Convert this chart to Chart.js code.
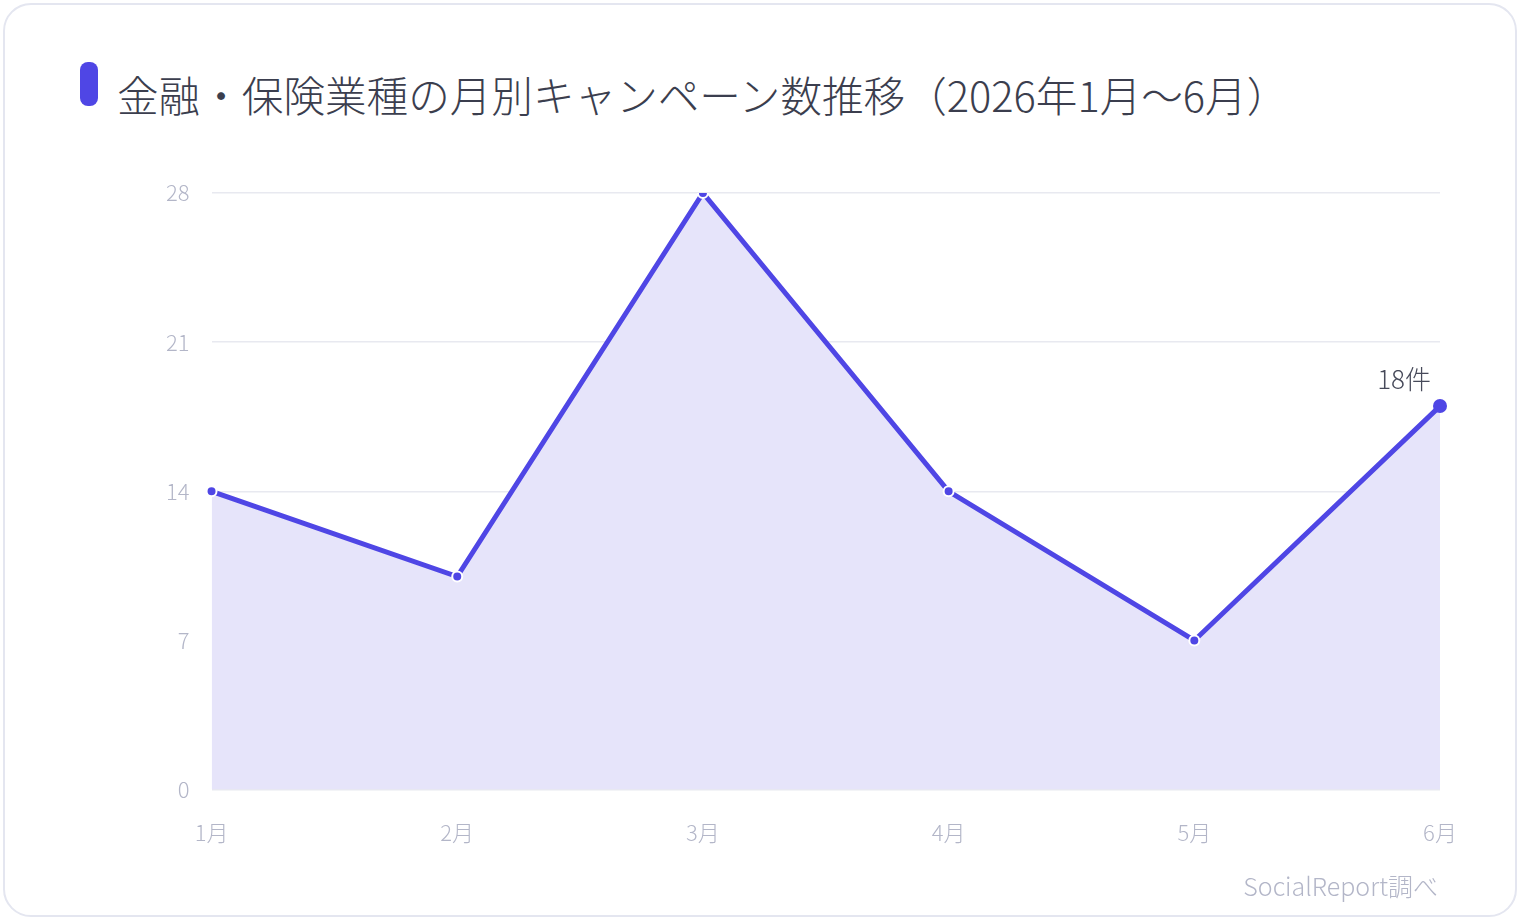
<!DOCTYPE html>
<html lang="ja">
<head>
<meta charset="utf-8">
<script src="https://cdn.jsdelivr.net/npm/chart.js@4"></script>
<style>
  html, body { margin: 0; padding: 0; background: #fff; }
  body { width: 1520px; height: 920px; position: relative; overflow: hidden;
         font-family: "Noto Sans CJK JP", "Noto Sans", sans-serif; }
  .card { position: absolute; left: 3px; top: 3px; width: 1510px; height: 910px;
          border: 2px solid #e4e6f0; border-radius: 28px; }
  .title { position: absolute; left: 117px; top: 65px; font-size: 41.6px; font-weight: 300;
           color: #3b3e4e; line-height: 58px; white-space: nowrap; }
  .bar { position: absolute; left: 80px; top: 62px; width: 18px; height: 44px;
         border-radius: 8px; background: #4f46e5; }
  .wrap { position: absolute; left: 0; top: 150px; width: 1520px; height: 726px; }
  .note { position: absolute; right: 82px; top: 867px; font-size: 25px; font-weight: 300;
          color: #b3b6c8; white-space: nowrap; }
</style>
</head>
<body>
<div class="card"></div>
<div class="bar"></div>
<div class="title">金融・保険業種の月別キャンペーン数推移（2026年1月〜6月）</div>
<div class="wrap"><canvas id="campaignChart"></canvas></div>
<div class="note">SocialReport調べ</div>
<script>
const months = ["1月", "2月", "3月", "4月", "5月", "6月"];
const campaignCounts = [14, 10, 28, 14, 7, 18];
const yTicks = [0, 7, 14, 21, 28];
const unit = "件";

const lastLabel = {
  id: "lastLabel",
  afterDatasetsDraw(chart) {
    const meta = chart.getDatasetMeta(0);
    const i = campaignCounts.length - 1;
    const pt = meta.data[i];
    const ctx = chart.ctx;
    ctx.save();
    ctx.font = "300 26px 'Noto Sans CJK JP'";
    ctx.fillStyle = "#474a5a";
    ctx.textAlign = "right";
    ctx.textBaseline = "alphabetic";
    ctx.fillText(campaignCounts[i] + unit, pt.x - 9, pt.y - 17);
    ctx.restore();
  }
};

Chart.defaults.font.family = "'Noto Sans CJK JP'";
Chart.defaults.font.weight = 300;

const ctx = document.getElementById("campaignChart").getContext("2d");
const myChart = new Chart(ctx, {
  type: "line",
  data: {
    labels: months,
    datasets: [
      {
        label: "キャンペーン数",
        data: campaignCounts,
        borderColor: "#4f46e5",
        borderWidth: 5,
        backgroundColor: "#e6e4fa",
        fill: true,
        tension: 0,
        pointRadius: [5, 5, 5, 5, 5, 7],
        pointBackgroundColor: "#4f46e5",
        pointBorderColor: ["#fff", "#fff", "#fff", "#fff", "#fff", "#4f46e5"],
        pointBorderWidth: [2, 2, 2, 2, 2, 0],
      },
    ],
  },
  options: {
    responsive: true,
    maintainAspectRatio: false,
    animation: false,
    layout: { padding: { left: 144, right: 80, top: 43, bottom: 0 } },
    plugins: {
      legend: { display: false },
      tooltip: { enabled: false },
    },
    scales: {
      x: {
        grid: { display: false, drawTicks: false },
        border: { display: false },
        ticks: { color: "#b3b6c8", font: { size: 22 }, padding: 30 },
      },
      y: {
        min: 0,
        max: 28,
        afterBuildTicks: (axis) => { axis.ticks = yTicks.map((v) => ({ value: v })); },
        grid: { color: "#e8e9f0", lineWidth: 1.5, drawTicks: false },
        border: { display: false },
        ticks: { color: "#b3b6c8", font: { size: 22 }, padding: 22 },
      },
    },
  },
  plugins: [lastLabel],
});
</script>
</body>
</html>
